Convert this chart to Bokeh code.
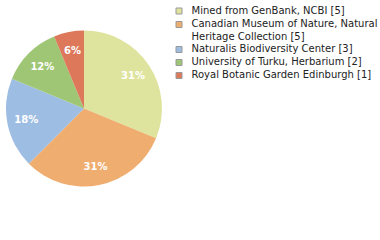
import math
from bokeh.plotting import figure
from bokeh.models import Range1d, ColumnDataSource
from bokeh.embed import file_html
from bokeh.resources import INLINE
from bokeh.core.properties import value

# ---- data ----
labels = [
    "Mined from GenBank, NCBI [5]",
    "Canadian Museum of Nature, Natural\nHeritage Collection [5]",
    "Naturalis Biodiversity Center [3]",
    "University of Turku, Herbarium [2]",
    "Royal Botanic Garden Edinburgh [1]",
]
counts = [5, 5, 3, 2, 1]
colors = ["#dee49d", "#f0ad70", "#9ebde2", "#9fc674", "#dd785b"]

# ---- layout (pixels, y measured from top) ----
W, H = 380, 240
cx, cy, R = 83.5, 108.0, 78.0
label_r = 0.755 * R
sw_x, sw_size = 178.5, 6
txt_x = 191
row_centers = [10.5, 24, 49, 62, 75]

total = sum(counts)
starts, ends, lx, ly, pct = [], [], [], [], []
cum = 0.0
for c in counts:
    a0 = math.pi / 2 - 2 * math.pi * (cum + c) / total
    a1 = math.pi / 2 - 2 * math.pi * cum / total
    starts.append(a0)
    ends.append(a1)
    mid = (a0 + a1) / 2
    lx.append(cx + label_r * math.cos(mid))
    ly.append(H - cy + label_r * math.sin(mid))
    pct.append("%d%%" % int(100 * c / total))
    cum += c

src = ColumnDataSource(dict(start=starts, end=ends, color=colors, lx=lx, ly=ly, pct=pct,
                            label=labels,
                            sy=[H - r for r in row_centers],
                            ty=[H - r + 6.5 for r in row_centers]))

p = figure(width=W, height=H, x_range=Range1d(0, W), y_range=Range1d(0, H),
           output_backend="svg", toolbar_location=None, min_border=0,
           background_fill_color="white", border_fill_color="white")
p.axis.visible = False
p.grid.visible = False
p.outline_line_color = None

p.wedge(x=cx, y=H - cy, radius=R, start_angle="start", end_angle="end",
        direction="anticlock", fill_color="color", line_color=None, source=src)

p.text(x="lx", y="ly", text="pct", source=src, text_color="white",
       text_font=value("DejaVu Sans"), text_font_size="10px", text_font_style="bold",
       text_align="center", text_baseline="middle")

p.rect(x=sw_x, y="sy", width=sw_size, height=sw_size, fill_color="color",
       line_color="#999999", line_width=1, source=src)

p.text(x=txt_x, y="ty", text="label", source=src, text_color="#222222",
       text_font=value("DejaVu Sans"), text_font_size="10px",
       text_align="left", text_baseline="top", text_line_height=1.2)

open("out.html", "w").write(file_html(p, INLINE))
